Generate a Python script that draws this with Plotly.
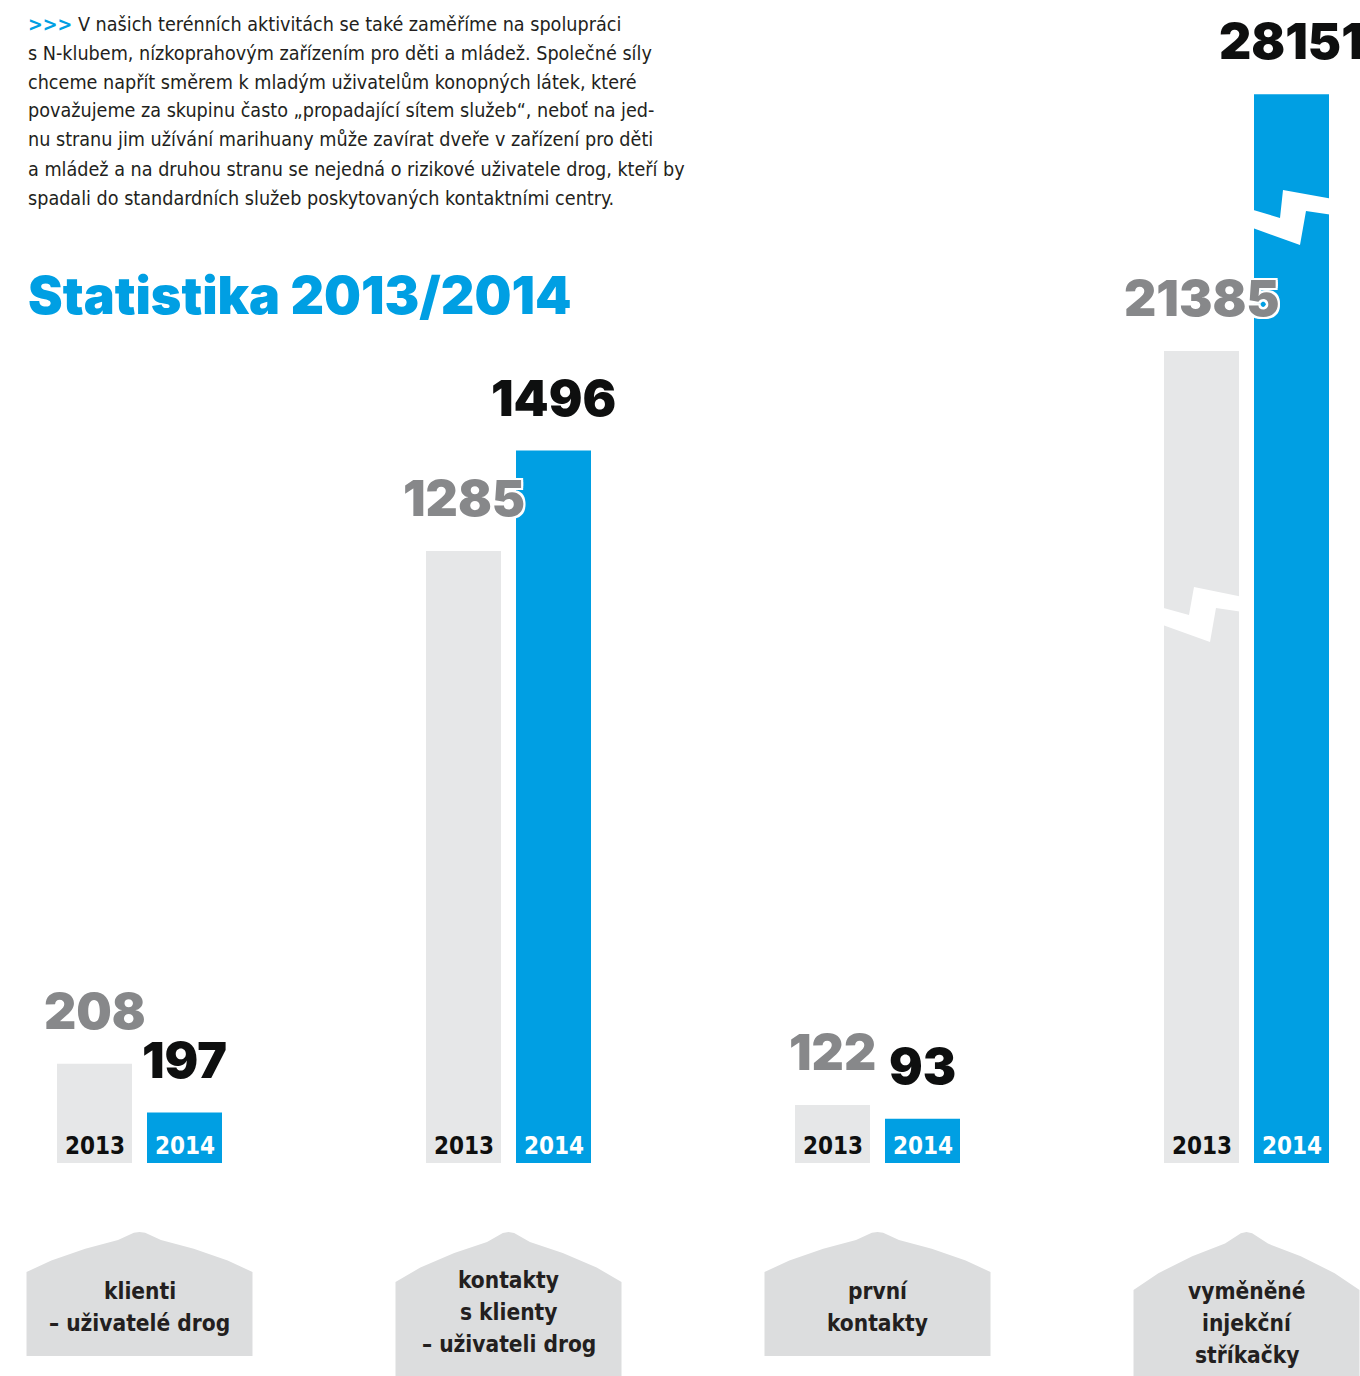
import plotly.graph_objects as go

# ---------------- data ----------------
categories = ["klienti<br>– uživatelé drog",
              "kontakty<br>s klienty<br>– uživateli drog",
              "první<br>kontakty",
              "vyměněné<br>injekční<br>stříkačky"]
years = ["2013", "2014"]
values_2013 = [208, 1285, 122, 21385]
values_2014 = [197, 1496, 93, 28151]

title_text = "Statistika 2013/2014"
paragraph_lines = [
    "V našich terénních aktivitách se také zaměříme na spolupráci",
    "s N-klubem, nízkoprahovým zařízením pro děti a mládež. Společné síly",
    "chceme napřít směrem k mladým uživatelům konopných látek, které",
    "považujeme za skupinu často „propadající sítem služeb“, neboť na jed-",
    "nu stranu jim užívání marihuany může zavírat dveře v zařízení pro děti",
    "a mládež a na druhou stranu se nejedná o rizikové uživatele drog, kteří by",
    "spadali do standardních služeb poskytovaných kontaktními centry.",
]

# ---------------- style ----------------
W, H = 1360, 1376
BLUE = "#009FE3"
BAR_GRAY = "#E6E7E8"
HOUSE_GRAY = "#DCDDDE"
LABEL_GRAY = "#87888A"
DARK = "#0E0F0F"
TEXT = "#231F20"
NARROW = "Liberation Sans Narrow, DejaVu Sans Condensed, Roboto Condensed, Open Sans, sans-serif"
HEAVY = "Inter, Lato, Roboto, DejaVu Sans, sans-serif"

def px(x):
    return x / W

def py(y):
    return 1 - y / H

baseline = 1163
group_left = [49.5, 418.5, 787.5, 1156.5]
group_width = 180
# per-group value axis ranges (panel scales, group 4 on its own broken scale)
y_ranges = [[185.6, 448.3], [0, 2442], [0, 2442], [0, 30630]]

fig = go.Figure()
layout_axes = {}
annotations = []
shapes = []

for i in range(4):
    xa = "x" if i == 0 else f"x{i+1}"
    ya = "y" if i == 0 else f"y{i+1}"
    fig.add_trace(go.Bar(
        x=years, y=[values_2013[i], values_2014[i]],
        xaxis=xa, yaxis=ya,
        marker=dict(color=[BAR_GRAY, BLUE], line=dict(width=0)),
        hoverinfo="skip", showlegend=False, cliponaxis=True,
    ))
    key = "" if i == 0 else str(i + 1)
    layout_axes[f"xaxis{key}"] = dict(
        domain=[px(group_left[i]), px(group_left[i] + group_width)],
        type="category", range=[-0.5, 1.5], visible=False,
        anchor=ya, fixedrange=True)
    layout_axes[f"yaxis{key}"] = dict(
        domain=[py(baseline), 1], range=y_ranges[i], visible=False,
        anchor=xa, fixedrange=True)

    for j, (val, col) in enumerate([(values_2013[i], LABEL_GRAY), (values_2014[i], DARK)]):
        # year label at the foot of each bar
        annotations.append(dict(
            x=j, y=0, xref=xa, yref=f"{ya} domain", text=years[j],
            showarrow=False, xanchor="center", yanchor="bottom", yshift=1,
            font=dict(family=NARROW, size=24, weight="bold",
                      color=DARK if j == 0 else "#FFFFFF")))
        # value labels above bars
        f = dict(family=HEAVY, size=50, color=col, weight=900)
        if j == 0:
            f["shadow"] = ("2px 0 0 #fff, -2px 0 0 #fff, 0 2px 0 #fff, 0 -2px 0 #fff, "
                           "2px 2px 0 #fff, -2px -2px 0 #fff, 2px -2px 0 #fff, -2px 2px 0 #fff")
        annotations.append(dict(
            x=j, y=val, xref=xa, yref=ya, text=f"{val}",
            showarrow=False, xanchor="center", yanchor="bottom",
            yshift=21, font=f))

    # category label on "house" shape
    n_lines = categories[i].count("<br>") + 1
    cx = group_left[i] + group_width / 2
    half = 113
    yp = 1232
    yc = 1272 if n_lines == 2 else 1282
    yb = 1356 if n_lines == 2 else 1380
    if i == 3:
        yc, yb = 1290, 1400
    x0, x1 = cx - half, cx + half
    h = yc - yp
    pts = [(x0, yb), (x0, yc),
           (x0 + 0.22 * half, yc - 0.29 * h), (x0 + 0.52 * half, yc - 0.58 * h),
           (x0 + 0.81 * half, yc - 0.80 * h), (x0 + 0.95 * half, yc - 0.98 * h),
           (cx, yp),
           (x1 - 0.95 * half, yc - 0.98 * h), (x1 - 0.81 * half, yc - 0.80 * h),
           (x1 - 0.52 * half, yc - 0.58 * h), (x1 - 0.22 * half, yc - 0.29 * h),
           (x1, yc), (x1, yb)]
    path = "M " + " L ".join(f"{px(a):.5f},{py(b):.5f}" for a, b in pts) + " Z"
    shapes.append(dict(type="path", path=path, xref="paper", yref="paper",
                       fillcolor=HOUSE_GRAY, line=dict(width=0), layer="below"))
    text_top = 1291 if n_lines == 2 else 1280
    if i == 3:
        text_top = 1291
    for k, line in enumerate(categories[i].split("<br>")):
        annotations.append(dict(
            x=0.5, xref=f"{xa} domain", y=py(text_top + 32 * k), yref="paper",
            text=line, showarrow=False, xanchor="center", yanchor="middle",
            align="center", font=dict(family=NARROW, size=22.5, color=TEXT, weight=600)))

# axis-break marks on the last group (decorative white zigzags)
breaks = [
    [(1250, 209), (1280, 218), (1283, 190), (1333, 199), (1333, 215),
     (1306, 211), (1300, 245), (1250, 227)],
    [(1160, 607), (1189, 615), (1194, 587), (1243, 597), (1243, 612),
     (1216, 608), (1210, 642), (1160, 624)],
]
for poly in breaks:
    path = "M " + " L ".join(f"{px(a):.5f},{py(b):.5f}" for a, b in poly) + " Z"
    shapes.append(dict(type="path", path=path, xref="paper", yref="paper",
                       fillcolor="#FFFFFF", line=dict(width=0), layer="above"))

# title
annotations.append(dict(
    x=px(26), y=py(296), xref="paper", yref="paper", text=title_text,
    showarrow=False, xanchor="left", yanchor="middle",
    font=dict(family=HEAVY, size=52, color=BLUE, weight=900)))

# paragraph
for k, line in enumerate(paragraph_lines):
    txt = line
    if k == 0:
        txt = f"<span style='color:{BLUE}'><b>&gt;&gt;&gt;</b></span> " + line
    annotations.append(dict(
        x=px(26), y=py(24 + 29 * k), xref="paper", yref="paper", text=txt,
        showarrow=False, xanchor="left", yanchor="middle", align="left",
        font=dict(family=NARROW, size=19.6, color=TEXT)))

fig.update_layout(
    width=W, height=H, autosize=False,
    margin=dict(l=0, r=0, t=0, b=0, pad=0),
    paper_bgcolor="#FFFFFF", plot_bgcolor="rgba(0,0,0,0)",
    bargap=1 / 6, showlegend=False,
    annotations=annotations, shapes=shapes,
    **layout_axes,
)

fig.write_html("out.html", config={"displayModeBar": False, "staticPlot": True},
               post_script="document.body.style.margin='0';")
